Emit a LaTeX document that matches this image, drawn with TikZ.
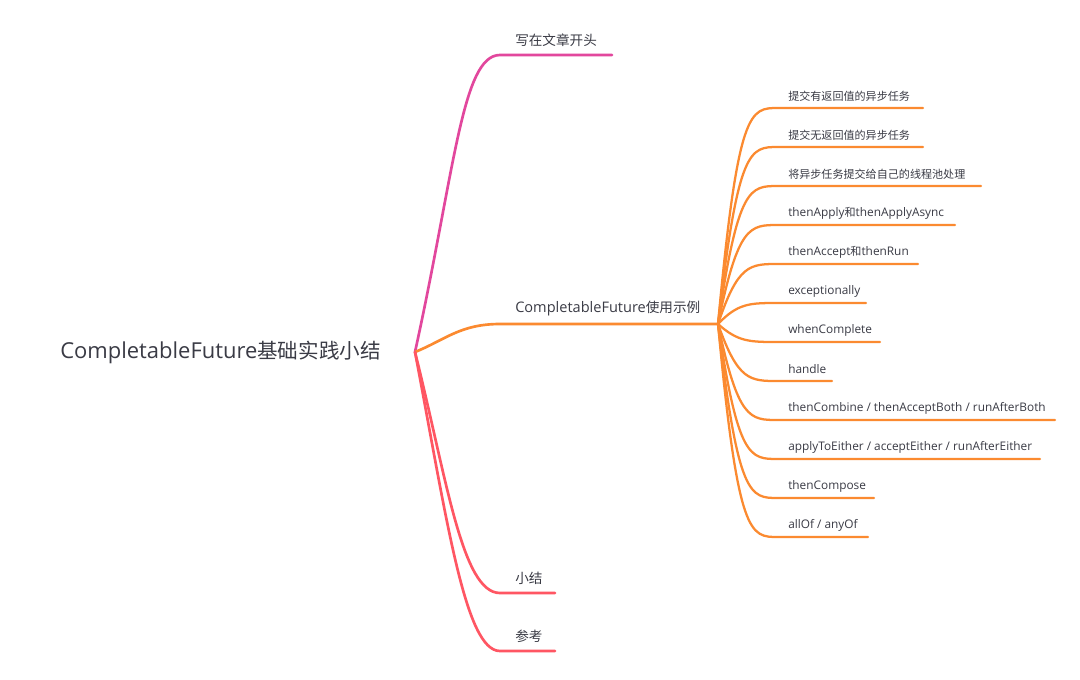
\documentclass[tikz,border=0pt]{standalone}
\usepackage{fontspec}
\setmainfont{Open Sans}[Scale=1.07]
\newfontfamily\cjk{Noto Sans CJK SC}
\definecolor{textgray}{HTML}{3A3B45}
\definecolor{pinkline}{HTML}{E2479D}
\definecolor{orangeline}{HTML}{FB8A30}
\definecolor{redline}{HTML}{FF5663}
\tikzset{
    rootlabel/.style={anchor=west, inner sep=0pt, text=textgray,
        font=\fontsize{15.4}{18}\selectfont},
    toplabel/.style={anchor=west, inner sep=0pt, text=textgray,
        font=\fontsize{10.2}{12}\selectfont},
    leaflabel/.style={anchor=west, inner sep=0pt, text=textgray,
        font=\fontsize{8.3}{10}\selectfont},
    branch/.style={line width=2pt, line cap=round},
    twig/.style={line width=1.7pt, line cap=round, draw=orangeline}
}
\begin{document}
\begin{tikzpicture}[x=0.75pt, y=-0.75pt]
\useasboundingbox[fill=white] (0,0) rectangle (1080,679);
\node[rootlabel] (root) at (60,352) {CompletableFuture{\cjk 基础实践小结}};
\coordinate (hub) at (415,352);

% first level
\coordinate (intro s) at (500,55);
\coordinate (intro e) at (612,55);
\node[toplabel] (intro) at (515,40) {\cjk 写在文章开头};
\draw[branch, draw=pinkline] (hub) .. controls (455,170) and (462,55) .. (intro s) -- (intro e);

\coordinate (usage s) at (500,324);
\coordinate (usage e) at (718,324);
\node[toplabel] (usage) at (515,309) {CompletableFuture{\cjk 使用示例}};
\draw[branch, draw=orangeline] (hub) .. controls (445,340) and (460,324) .. (usage s) -- (usage e);

\coordinate (summ s) at (500,593);
\coordinate (summ e) at (555,593);
\node[toplabel] (summ) at (515,578) {\cjk 小结};
\draw[branch, draw=redline] (hub) .. controls (447,480) and (462,593) .. (summ s) -- (summ e);

\coordinate (refs s) at (500,651);
\coordinate (refs e) at (555,651);
\node[toplabel] (refs) at (515,636) {\cjk 参考};
\draw[branch, draw=redline] (hub) .. controls (447,520) and (465,651) .. (refs s) -- (refs e);

% second level
\node[leaflabel] (a) at (788,96) {\cjk 提交有返回值的异步任务};
\draw[twig] (usage e) .. controls (738,108) and (750,108) .. (778,108) -- (923,108);
\node[leaflabel] (b) at (788,135) {\cjk 提交无返回值的异步任务};
\draw[twig] (usage e) .. controls (738,147) and (750,147) .. (778,147) -- (923,147);
\node[leaflabel] (c) at (788,174) {\cjk 将异步任务提交给自己的线程池处理};
\draw[twig] (usage e) .. controls (738,186) and (750,186) .. (778,186) -- (981,186);
\node[leaflabel] (d) at (788,213) {thenApply{\cjk 和}thenApplyAsync};
\draw[twig] (usage e) .. controls (738,225) and (750,225) .. (778,225) -- (955,225);
\node[leaflabel] (e) at (788,252) {thenAccept{\cjk 和}thenRun};
\draw[twig] (usage e) .. controls (738,264) and (750,264) .. (778,264) -- (918,264);
\node[leaflabel] (f) at (788,291) {exceptionally};
\draw[twig] (usage e) .. controls (738,303) and (750,303) .. (778,303) -- (866,303);
\node[leaflabel] (g) at (788,330) {whenComplete};
\draw[twig] (usage e) .. controls (738,342) and (750,342) .. (778,342) -- (880,342);
\node[leaflabel] (h) at (788,369) {handle};
\draw[twig] (usage e) .. controls (738,381) and (750,381) .. (778,381) -- (832,381);
\node[leaflabel] (i) at (788,408) {thenCombine / thenAcceptBoth / runAfterBoth};
\draw[twig] (usage e) .. controls (738,420) and (750,420) .. (778,420) -- (1055,420);
\node[leaflabel] (j) at (788,447) {applyToEither / acceptEither / runAfterEither};
\draw[twig] (usage e) .. controls (738,459) and (750,459) .. (778,459) -- (1040,459);
\node[leaflabel] (k) at (788,486) {thenCompose};
\draw[twig] (usage e) .. controls (738,498) and (750,498) .. (778,498) -- (874,498);
\node[leaflabel] (l) at (788,525) {allOf / anyOf};
\draw[twig] (usage e) .. controls (738,537) and (750,537) .. (778,537) -- (868,537);
\end{tikzpicture}
\end{document}
